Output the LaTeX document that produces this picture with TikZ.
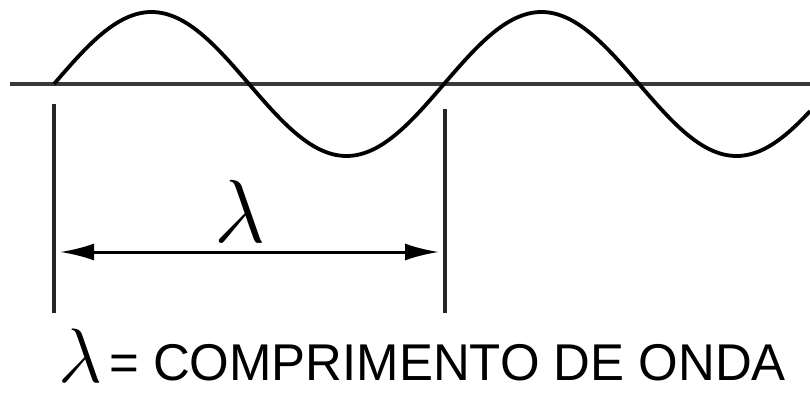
\documentclass[tikz,border=0pt]{standalone}
\usepackage{fontspec}
\setmainfont{Liberation Sans}
\usetikzlibrary{arrows.meta}
\begin{document}
\begin{tikzpicture}[x=1pt,y=-1pt,
  axisline/.style={line width=3.5pt,draw=black!78},
  waveline/.style={line width=3.8pt,draw=black,line join=round},
  tickline/.style={line width=3.2pt,draw=black!85},
  dimline/.style={line width=3pt,draw=black,{Latex[length=34pt,width=17pt]}-{Latex[length=34pt,width=17pt]}},
  lambdalabel/.style={inner sep=0pt,anchor=base},
  captiontext/.style={inner sep=0pt,anchor=base west,font=\fontsize{51.7}{52}\selectfont,xscale=0.985}]
\useasboundingbox (0,0) rectangle (810,393);
% axis
\coordinate (axL) at (10,84);
\coordinate (axR) at (810,84);
\draw[axisline] (axL) -- (axR);
% wave
\draw[waveline] plot[domain=54:810,samples=240,smooth] (\x,{84-72*sin((\x-54)/390*360)});
% vertical markers
\coordinate (t1a) at (54,104);
\coordinate (t1b) at (54,313);
\coordinate (t2a) at (445,109);
\coordinate (t2b) at (445,313);
\draw[tickline] (t1a) -- (t1b);
\draw[tickline] (t2a) -- (t2b);
% dimension arrow
\coordinate (dL) at (60,252);
\coordinate (dR) at (439,252);
\draw[dimline] (dL) -- (dR);
\node[lambdalabel,scale=3.6] (lam) at (240,242) {\fontsize{24.88}{25}\selectfont$\lambda$};
% caption
\node[lambdalabel,scale=3.1] (lam2) at (81,382) {\fontsize{24.88}{25}\selectfont$\lambda$};
\node[captiontext] (cap) at (109,380) {= COMPRIMENTO DE ONDA};
\end{tikzpicture}
\end{document}
